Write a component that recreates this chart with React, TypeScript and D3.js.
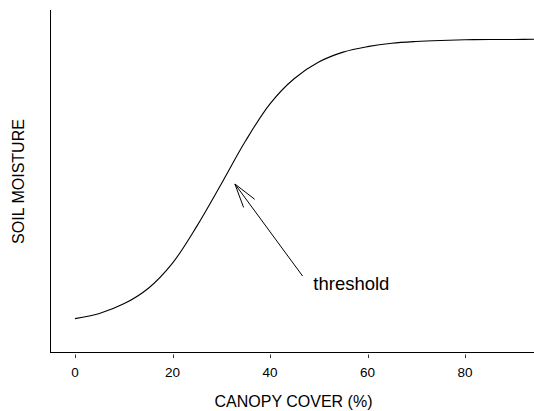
import React, { useEffect, useRef } from 'react';
import * as d3 from 'd3';

// canopy cover (%) and relative soil moisture
const cover = [0, 5, 10, 15, 20, 25, 30, 35, 40, 45, 50, 55, 60, 65, 70, 75, 80, 85, 90, 95];
const moisture = [0.099, 0.114, 0.142, 0.187, 0.261, 0.369, 0.492, 0.618, 0.726, 0.800,
  0.848, 0.877, 0.893, 0.903, 0.908, 0.911, 0.913, 0.914, 0.914, 0.915];
const xTicks = [0, 20, 40, 60, 80];
const arrowFrom = [46.7, 0.223];
const arrowTo = [32.8, 0.492];
const annotation = 'threshold';

export default function App() {
  const ref = useRef<SVGSVGElement>(null);

  useEffect(() => {
    const width = 534;
    const left = 50;
    const bottom = 352.5;
    const top = 10;
    const font = 'Liberation Sans, Arial, sans-serif';

    const svg = d3.select(ref.current);
    svg.selectAll('*').remove();

    const x = d3.scaleLinear().domain([0, 80]).range([75, 465]);
    const y = d3.scaleLinear().domain([0, 1]).range([bottom, top]);

    // L-shaped frame
    svg.append('line')
      .attr('x1', left + 0.5).attr('x2', left + 0.5)
      .attr('y1', top).attr('y2', bottom)
      .attr('stroke', '#000').attr('stroke-width', 1);
    svg.append('line')
      .attr('x1', left).attr('x2', width)
      .attr('y1', bottom).attr('y2', bottom)
      .attr('stroke', '#000').attr('stroke-width', 1);

    // x ticks
    const ticks = svg.append('g');
    ticks.selectAll('line')
      .data(xTicks)
      .enter()
      .append('line')
        .attr('x1', d => Math.round(x(d)) + 0.5)
        .attr('x2', d => Math.round(x(d)) + 0.5)
        .attr('y1', bottom + 2)
        .attr('y2', bottom + 5.5)
        .attr('stroke', '#333')
        .attr('stroke-width', 1);
    ticks.selectAll('text')
      .data(xTicks)
      .enter()
      .append('text')
        .attr('x', d => x(d))
        .attr('y', 377.3)
        .attr('text-anchor', 'middle')
        .style('font-family', font)
        .style('font-size', '13.5px')
        .text(d => d);

    // axis titles
    svg.append('text')
      .attr('x', 293.5)
      .attr('y', 406.5)
      .attr('text-anchor', 'middle')
      .style('font-family', font)
      .style('font-size', '16px')
      .text('CANOPY COVER (%)');
    svg.append('text')
      .attr('transform', 'translate(23.5,181.5) rotate(-90)')
      .attr('text-anchor', 'middle')
      .style('font-family', font)
      .style('font-size', '16px')
      .text('SOIL MOISTURE');

    // response curve
    const line = d3.line<number>()
      .x((d, i) => x(cover[i]))
      .y(d => y(d))
      .curve(d3.curveCatmullRom.alpha(0.5));
    svg.append('path')
      .datum(moisture)
      .attr('d', line)
      .attr('fill', 'none')
      .attr('stroke', '#000')
      .attr('stroke-width', 1.1);

    // annotation arrow
    const x0 = x(arrowFrom[0]), y0 = y(arrowFrom[1]);
    const x1 = x(arrowTo[0]), y1 = y(arrowTo[1]);
    const ang = Math.atan2(y0 - y1, x0 - x1);
    const len = 25;
    const spread = 16 * Math.PI / 180;
    svg.append('path')
      .attr('d', `M${x0},${y0}L${x1},${y1}`
        + `M${x1 + len * Math.cos(ang - spread)},${y1 + len * Math.sin(ang - spread)}L${x1},${y1}`
        + `L${x1 + len * Math.cos(ang + spread)},${y1 + len * Math.sin(ang + spread)}`)
      .attr('fill', 'none')
      .attr('stroke', '#000')
      .attr('stroke-width', 1);
    svg.append('text')
      .attr('x', 313.3)
      .attr('y', 290)
      .style('font-family', font)
      .style('font-size', '18.5px')
      .text(annotation);
  }, []);

  return (
    <svg ref={ref} width={534} height={411}
      style={{ position: 'absolute', left: 0, top: 0, background: '#fff' }}></svg>
  );
}
